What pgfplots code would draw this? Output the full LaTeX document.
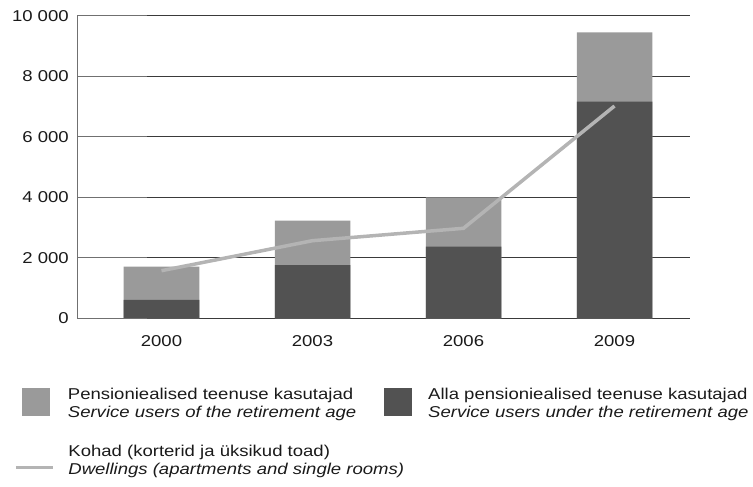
\documentclass[border=0pt]{standalone}
\usepackage{fontspec}
\setmainfont{Liberation Sans}[FakeStretch=1.18]
\usepackage{pgfplots}
\pgfplotsset{compat=1.18}
\definecolor{lightbar}{HTML}{9A9A9A}
\definecolor{darkbar}{HTML}{525252}
\definecolor{linec}{HTML}{B4B4B4}
\definecolor{gridc}{HTML}{3A3A3A}
\definecolor{axisc}{HTML}{707070}
\definecolor{textc}{HTML}{1A1A1A}
\newcommand\chartfont{\fontsize{15.7bp}{18bp}\selectfont}
\begin{document}
\begin{tikzpicture}[font=\chartfont, text=textc]
\path[use as bounding box] (-86bp,-168.7bp) rectangle (667bp,318.3bp);
\begin{axis}[
  at={(0,0)}, anchor=south west,
  scale only axis, width=604bp, height=302.6bp,
  xmin=-0.5, xmax=3.5, ymin=0, ymax=10000,
  scaled y ticks=false,
  axis line style={draw=none}, tick style={draw=none},
  xtick={0,1,2,3}, xticklabels={2000,2003,2006,2009},
  ytick={0,2000,4000,6000,8000,10000},
  yticklabels={0,2~000,4~000,6~000,8~000,10~000},
  ymajorgrids, grid style={gridc, line width=0.9bp},
  tick label style={font=\chartfont, text=textc},
  yticklabel style={xshift=-13.8bp},
  xticklabel style={yshift=-13.5bp},
  clip=false,
  legend columns=2,
  legend cell align=left,
  legend style={at={(axis description cs:-0.1242,-0.202)}, anchor=north west,
     draw=none, fill=none, font=\chartfont, text=textc,
     nodes={inner sep=0pt},
     column sep=0pt,
     row sep=23bp},
]
\addplot[ybar, bar width=75.5bp, bar shift=0pt, fill=lightbar, draw=none, forget plot]
  coordinates {(0,1705) (1,3226) (2,4000) (3,9451)};
\addplot[ybar, bar width=75.5bp, bar shift=0pt, fill=darkbar, draw=none, forget plot]
  coordinates {(0,605) (1,1761) (2,2367) (3,7158)};
\addplot[sharp plot, linec, line width=3.5bp, no markers, forget plot]
  coordinates {(0,1573) (1,2565) (2,2974) (3,7016)};

\draw[axisc, line width=0.9bp] ([xshift=-8.7bp]axis cs:-0.5,0) -- ([xshift=-8.7bp]axis cs:-0.5,10000);
\pgfplotsinvokeforeach{0,2000,4000,6000,8000,10000}{
  \draw[axisc, line width=0.9bp] ([xshift=-8.7bp]axis cs:-0.5,#1) -- ++(-5.5bp,0);
}

\addlegendimage{legend image code/.code={\path[draw=none,fill=none] (0bp,-17bp) rectangle (52bp,17bp); \fill[lightbar] (6bp,-16.5bp) rectangle (33bp,10.5bp);}}
\addlegendentry{\begin{tabular}{@{}l@{}}Pensioniealised teenuse kasutajad\\\textit{Service users of the retirement age}\end{tabular}}
\addlegendimage{legend image code/.code={\path[draw=none,fill=none] (0bp,-17bp) rectangle (72bp,17bp); \fill[darkbar] (28bp,-16.5bp) rectangle (55bp,10.5bp);}}
\addlegendentry{\begin{tabular}{@{}l@{}}Alla pensioniealised teenuse kasutajad\\\textit{Service users under the retirement age}\end{tabular}}
\addlegendimage{legend image code/.code={\path[draw=none,fill=none] (0bp,-17bp) rectangle (52bp,17bp); \draw[linec, line width=3.5bp] (0bp,-12bp) -- (37bp,-12bp);}}
\addlegendentry{\rlap{\begin{tabular}{@{}l@{}}Kohad (korterid ja üksikud toad)\\\textit{Dwellings (apartments and single rooms)}\end{tabular}}}
\end{axis}
\end{tikzpicture}
\end{document}
